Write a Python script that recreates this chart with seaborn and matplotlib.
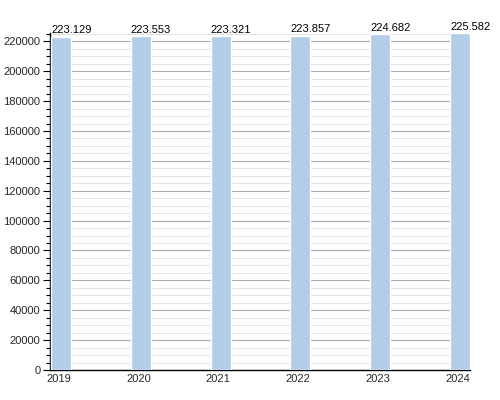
import matplotlib
matplotlib.use("Agg")
import matplotlib.pyplot as plt
import seaborn as sns
import pandas as pd
from matplotlib.ticker import MultipleLocator

years = ["2019", "2020", "2021", "2022", "2023", "2024"]
values = [223129, 223553, 223321, 223857, 224682, 225582]

sns.set_style("white")
plt.rcParams["font.family"] = ["Liberation Sans", "DejaVu Sans"]

df = pd.DataFrame({"year": years, "value": values})

fig = plt.figure(figsize=(5, 4), dpi=100)
ax = fig.add_axes([0.1, 0.075, 0.84, 0.8425])

bar_w = 0.25
sns.barplot(data=df, x="year", y="value", color="#b3cde8", width=bar_w,
            saturation=1, ax=ax, zorder=3)

ax.set_xlim(-0.1375, 5.125)
ax.set_ylim(0, 225582)
ax.yaxis.set_major_locator(MultipleLocator(20000))
ax.yaxis.set_minor_locator(MultipleLocator(5000))
ax.grid(which="major", axis="y", color="#aaaaaa", linewidth=0.8, zorder=0)
ax.grid(which="minor", axis="y", color="#e4e4e4", linewidth=0.8, zorder=0)
ax.set_axisbelow(True)

ax.set_xticks([i - 0.03 for i in range(len(years))])
ax.set_xticklabels(years)

for s in ["top", "right"]:
    ax.spines[s].set_visible(False)
for s in ["left", "bottom"]:
    ax.spines[s].set_color("black")
    ax.spines[s].set_linewidth(1.0)

ax.tick_params(axis="y", which="major", length=5, width=0.8, color="black",
               left=True, labelsize=8, pad=2)
ax.tick_params(axis="y", which="minor", length=3, width=0.8, color="black", left=True)
ax.tick_params(axis="x", length=0, labelsize=8, pad=3)
ax.set_xlabel("")
ax.set_ylabel("")

for i, v in enumerate(values):
    ax.text(i - bar_w / 2, v + 800, f"{v:,}".replace(",", "."), ha="left", va="bottom",
            fontsize=8, color="black")

fig.savefig("out.png", dpi=100)
